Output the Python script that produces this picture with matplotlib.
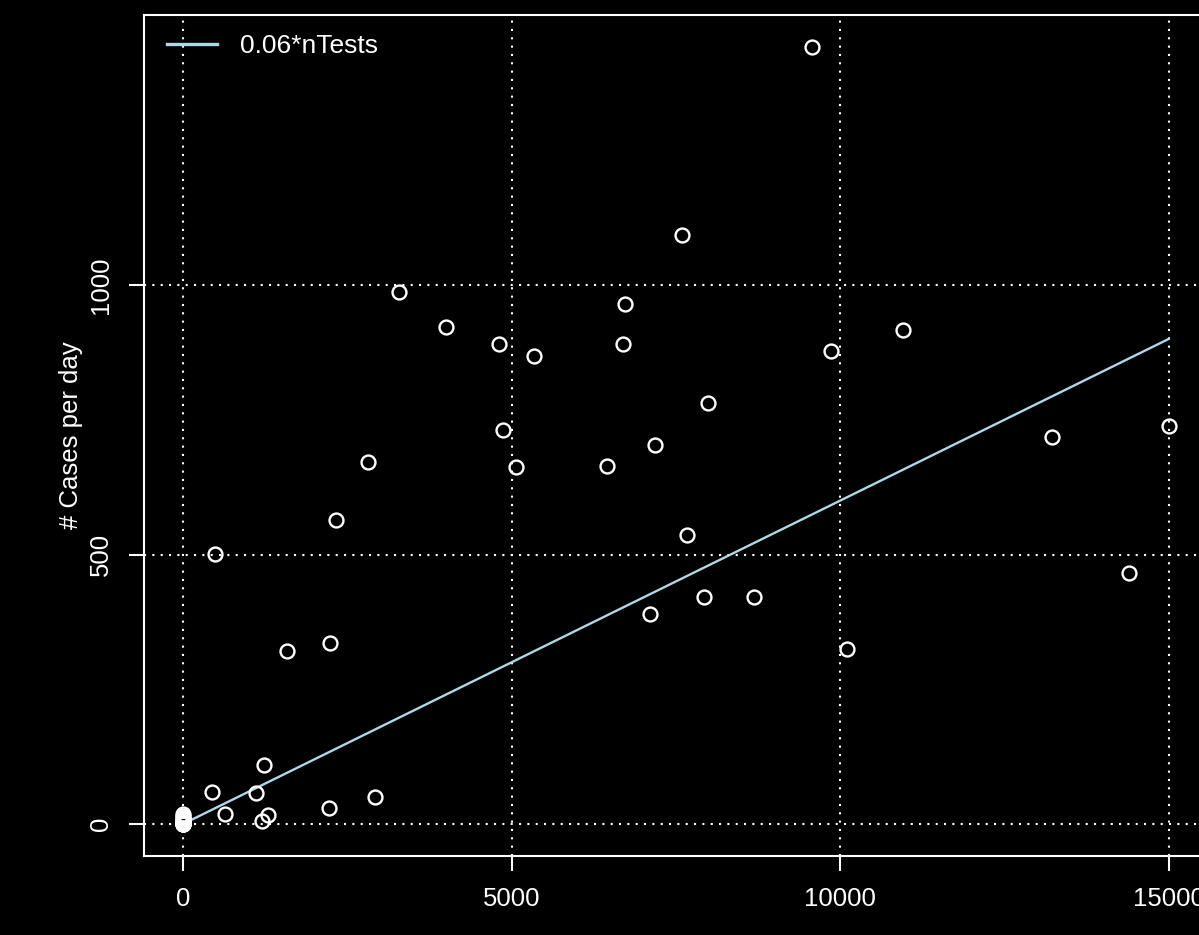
import matplotlib
matplotlib.use('Agg')
import matplotlib.pyplot as plt
import numpy as np

plt.rcParams['font.family'] = ['Liberation Sans', 'DejaVu Sans']

# tests per day vs. cases per day
n_tests = [9574, 7595, 3288, 4003, 6728, 10959, 4810, 6697, 5342, 9863,
           7991, 4871, 7184, 2816, 5068, 6454, 13227, 15000, 2329, 7671,
           487, 14399, 7108, 7930, 8691, 10107, 1583, 2237, 1233, 441,
           1111, 639, 2222, 2922, 1294, 1202,
           0, 0, 0, 0, 0, 0, 0, 0, 0, 0, 0, 0]
n_cases = [1441, 1093, 987, 922, 965, 917, 891, 891, 868, 878,
           781, 731, 703, 672, 662, 664, 718, 738, 564, 536,
           501, 466, 390, 421, 421, 325, 321, 336, 109, 59,
           58, 19, 30, 50, 17, 6,
           0, 0, 0, 0, 1, 2, 4, 6, 9, 12, 15, 18]
slope = 0.06
x_ticks = [0, 5000, 10000, 15000]
y_ticks = [0, 500, 1000]

W, H = 1199, 935
fig = plt.figure(figsize=(W / 100, H / 100), dpi=100, facecolor='black')
x0, x1 = 143.6, 1208.2
y_top, y_bot = 15, 856
ax = fig.add_axes([x0 / W, (H - y_bot) / H, (x1 - x0) / W, (y_bot - y_top) / H])
ax.set_facecolor('black')

for t in x_ticks:
    ax.axvline(t, color='white', lw=1.5, dashes=(1, 3), zorder=1)
for t in y_ticks:
    ax.axhline(t, color='white', lw=1.5, dashes=(1, 3), zorder=1)

xs = np.array([0, max(n_tests)])
ax.plot(xs, slope * xs, color='lightblue', lw=1.7, zorder=2, label='0.06*nTests')
ax.plot(n_tests, n_cases, 'o', mfc='none', mec='white', ms=10, mew=1.7,
        zorder=3, clip_on=False)

ax.set_xlim(-600, 15600)
ax.set_ylim(-59.4, 1501)
ax.set_xticks(x_ticks)
ax.set_yticks(y_ticks)
ax.set_yticklabels([str(t) for t in y_ticks], rotation=90, va='center')
ax.tick_params(colors='white', labelcolor='white', labelsize=18.5, width=1.5,
               length=11, pad=11)
for s in ax.spines.values():
    s.set_color('white')
    s.set_linewidth(1.5)

ax.set_ylabel('# Cases per day', color='white', fontsize=18.5, labelpad=4)

leg = ax.legend(loc='upper left', frameon=False, fontsize=19,
                handlelength=1.9, handletextpad=0.87,
                borderaxespad=0, bbox_to_anchor=(0.012, 0.99))
for line in leg.get_lines():
    line.set_linewidth(2.4)
for txt in leg.get_texts():
    txt.set_color('white')

fig.savefig('out.png', dpi=100, facecolor='black')
